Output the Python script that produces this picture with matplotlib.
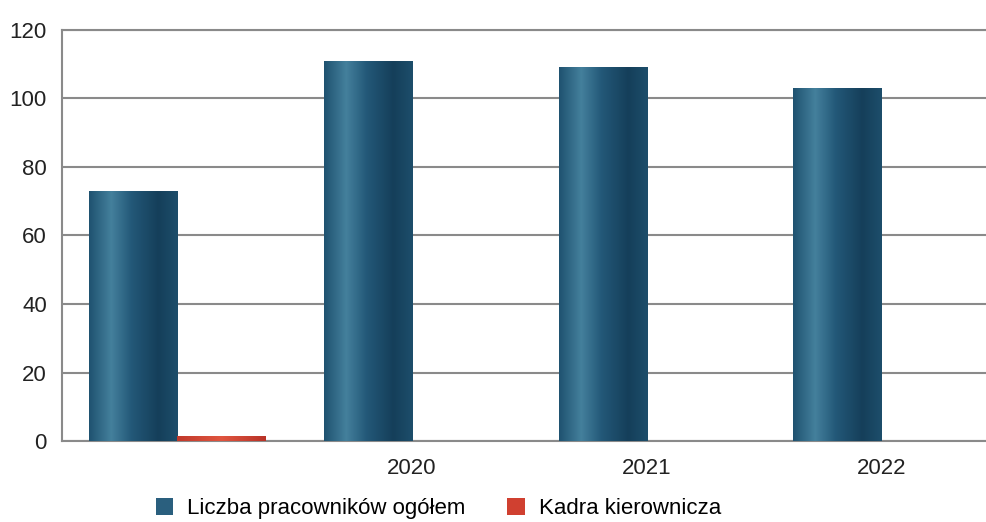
import numpy as np
import matplotlib
matplotlib.use("Agg")
import matplotlib.pyplot as plt
from matplotlib.colors import LinearSegmentedColormap
from matplotlib.patches import Patch

plt.rcParams['font.family'] = ['Liberation Sans', 'DejaVu Sans']

# dane
lata = ["", "2020", "2021", "2022"]
ogolem = [73, 111, 109, 103]
kierownicza = [1.5, 0, 0, 0]
nazwy = ["Liczba pracowników ogółem", "Kadra kierownicza"]

w, h = 987, 522
DPI = 100
fig = plt.figure(figsize=(w / DPI, h / DPI), dpi=DPI)
ax = fig.add_axes([0.063, 0.155, 0.937, 0.788])

x = np.arange(len(lata))
bw = 0.375

# cieniowanie "walca"
cyl = LinearSegmentedColormap.from_list("cyl", [
    (0.0, "#1f5270"), (0.25, "#44809c"), (0.48, "#235878"),
    (0.78, "#153f5a"), (1.0, "#1d4e6b")])
cyl_red = LinearSegmentedColormap.from_list("cylr", ["#c0392b", "#e0553f", "#b83227"])
grad = np.linspace(0, 1, 256).reshape(1, -1)

b1 = ax.bar(x - bw / 2, ogolem, bw, color="#1f5070", zorder=3)
b2 = ax.bar(x + bw / 2, kierownicza, bw, color="#d04030", zorder=3)

for bars, cm in ((b1, cyl), (b2, cyl_red)):
    for p in bars:
        if p.get_height() <= 0:
            continue
        x0, y0 = p.get_x(), p.get_y()
        im = ax.imshow(grad, cmap=cm, aspect="auto", zorder=4,
                       extent=[x0, x0 + p.get_width(), y0, y0 + p.get_height()])
        im.set_clip_path(p)

ax.set_xlim(-0.49, 3.45)
ax.set_ylim(0, 120)
ax.set_yticks(range(0, 121, 20))
ax.set_xticks(x)
ax.set_xticklabels(lata)
ax.tick_params(length=0, labelsize=16, colors="#222222")
ax.tick_params(axis="y", pad=11)
ax.tick_params(axis="x", pad=12)
ax.yaxis.grid(True, color="#8a8a8a", lw=1.5, zorder=1)

ax.spines["right"].set_visible(False)
for s in ("left", "top", "bottom"):
    ax.spines[s].set_color("#8a8a8a")
    ax.spines[s].set_linewidth(1.5)

handles = [Patch(facecolor="#2a5f7e", edgecolor="none"),
           Patch(facecolor="#d04030", edgecolor="none")]
fig.legend(handles, nazwy, loc="lower center", bbox_to_anchor=(0.444, -0.033),
           ncol=2, frameon=False, fontsize=16, handlelength=0.8,
           handleheight=0.8, columnspacing=1.9, handletextpad=0.6)

fig.savefig("out.png", dpi=DPI)
